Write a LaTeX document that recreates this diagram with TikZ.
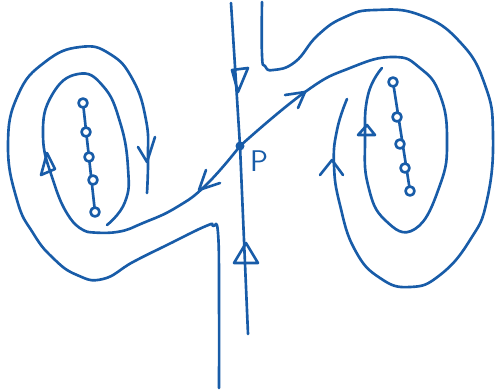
\documentclass[tikz,border=0pt]{standalone}
\definecolor{ink}{RGB}{24,92,168}
\begin{document}
\begin{tikzpicture}[x=0.02cm, y=-0.02cm, line width=1.5pt, line join=round, line cap=round]
            \useasboundingbox (0,0) rectangle (497,390);
            \coordinate (P) at (240,146);
            % vertical separatrix through P
            \draw[ink] (231,3) -- (P) -- (248,334);
            \draw[ink] (232,70) -- (248,68) -- (238,92) -- cycle;
            \draw[ink] (234,263) -- (246,243) -- (258,263) -- cycle;
            \fill[ink] (P) circle[radius=4.5];
            \node[ink, font=\sffamily\fontsize{17}{17}\selectfont] (plabel) at (259,161) {P};
            % left: stem and outer loop
            \draw[ink] plot[smooth, tension=0.8] coordinates {(219,388) (219,300) (218,233) (213,226) (206,226)
              (167,245) (133,262) (103,279) (77,275) (53,258) (33,233) (17,200) (8,145) (18,95) (45,62)
              (80,47) (110,54) (133,80) (146,120) (148,157) (147,193)};
            \draw[ink] (138,147) -- (147,162) -- (155,137);
            % left: from P into inner loop
            \draw[ink] plot[smooth, tension=0.8] coordinates {(P) (207,184) (177,207) (143,223) (117,232) (88,232)};
            \draw[ink] plot[smooth, tension=0.8] coordinates {(88,232) (70,218) (53,180) (43,135) (52,95)
              (78,74) (103,86) (120,122) (128,168) (125,202) (107,225)};
            \draw[ink] (206,170) -- (199,190) -- (220,183);
            \draw[ink] (41,175) -- (47,153) -- (55,169) -- cycle;
            % left: equilibria
            \draw[ink] (83,103) -- (95,212);
            \foreach \pt in {(83,103), (86,132), (89,157), (93,180), (95,212)}
              \draw[ink, fill=white] \pt circle[radius=4.5];
            % right: stem and outer loop
            \draw[ink] plot[smooth, tension=0.8] coordinates {(262,2) (262,55) (265,66) (273,70) (295,62)
              (318,35) (345,17) (375,10) (420,15) (460,42) (485,85) (493,135) (487,200) (470,240)
              (440,275) (410,287) (380,278) (355,250) (340,205) (334,165) (337,130) (347,99)};
            \draw[ink] (320,175) -- (332,160) -- (343,175);
            % right: from P into inner loop
            \draw[ink] plot[smooth, tension=0.8] coordinates {(P) (305,92) (350,68) (393,57) (420,68)
              (440,95) (447,140) (440,185) (415,229) (385,220) (368,185) (365,140) (368,95) (382,68)};
            \draw[ink] (285,95) -- (305,92) -- (298,108);
            \draw[ink] (358,135) -- (367,125) -- (375,135) -- cycle;
            % right: equilibria
            \draw[ink] (393,82) -- (410,191);
            \foreach \pt in {(393,82), (397,117), (400,144), (405,168), (410,191)}
              \draw[ink, fill=white] \pt circle[radius=4.5];
\end{tikzpicture}
\end{document}
